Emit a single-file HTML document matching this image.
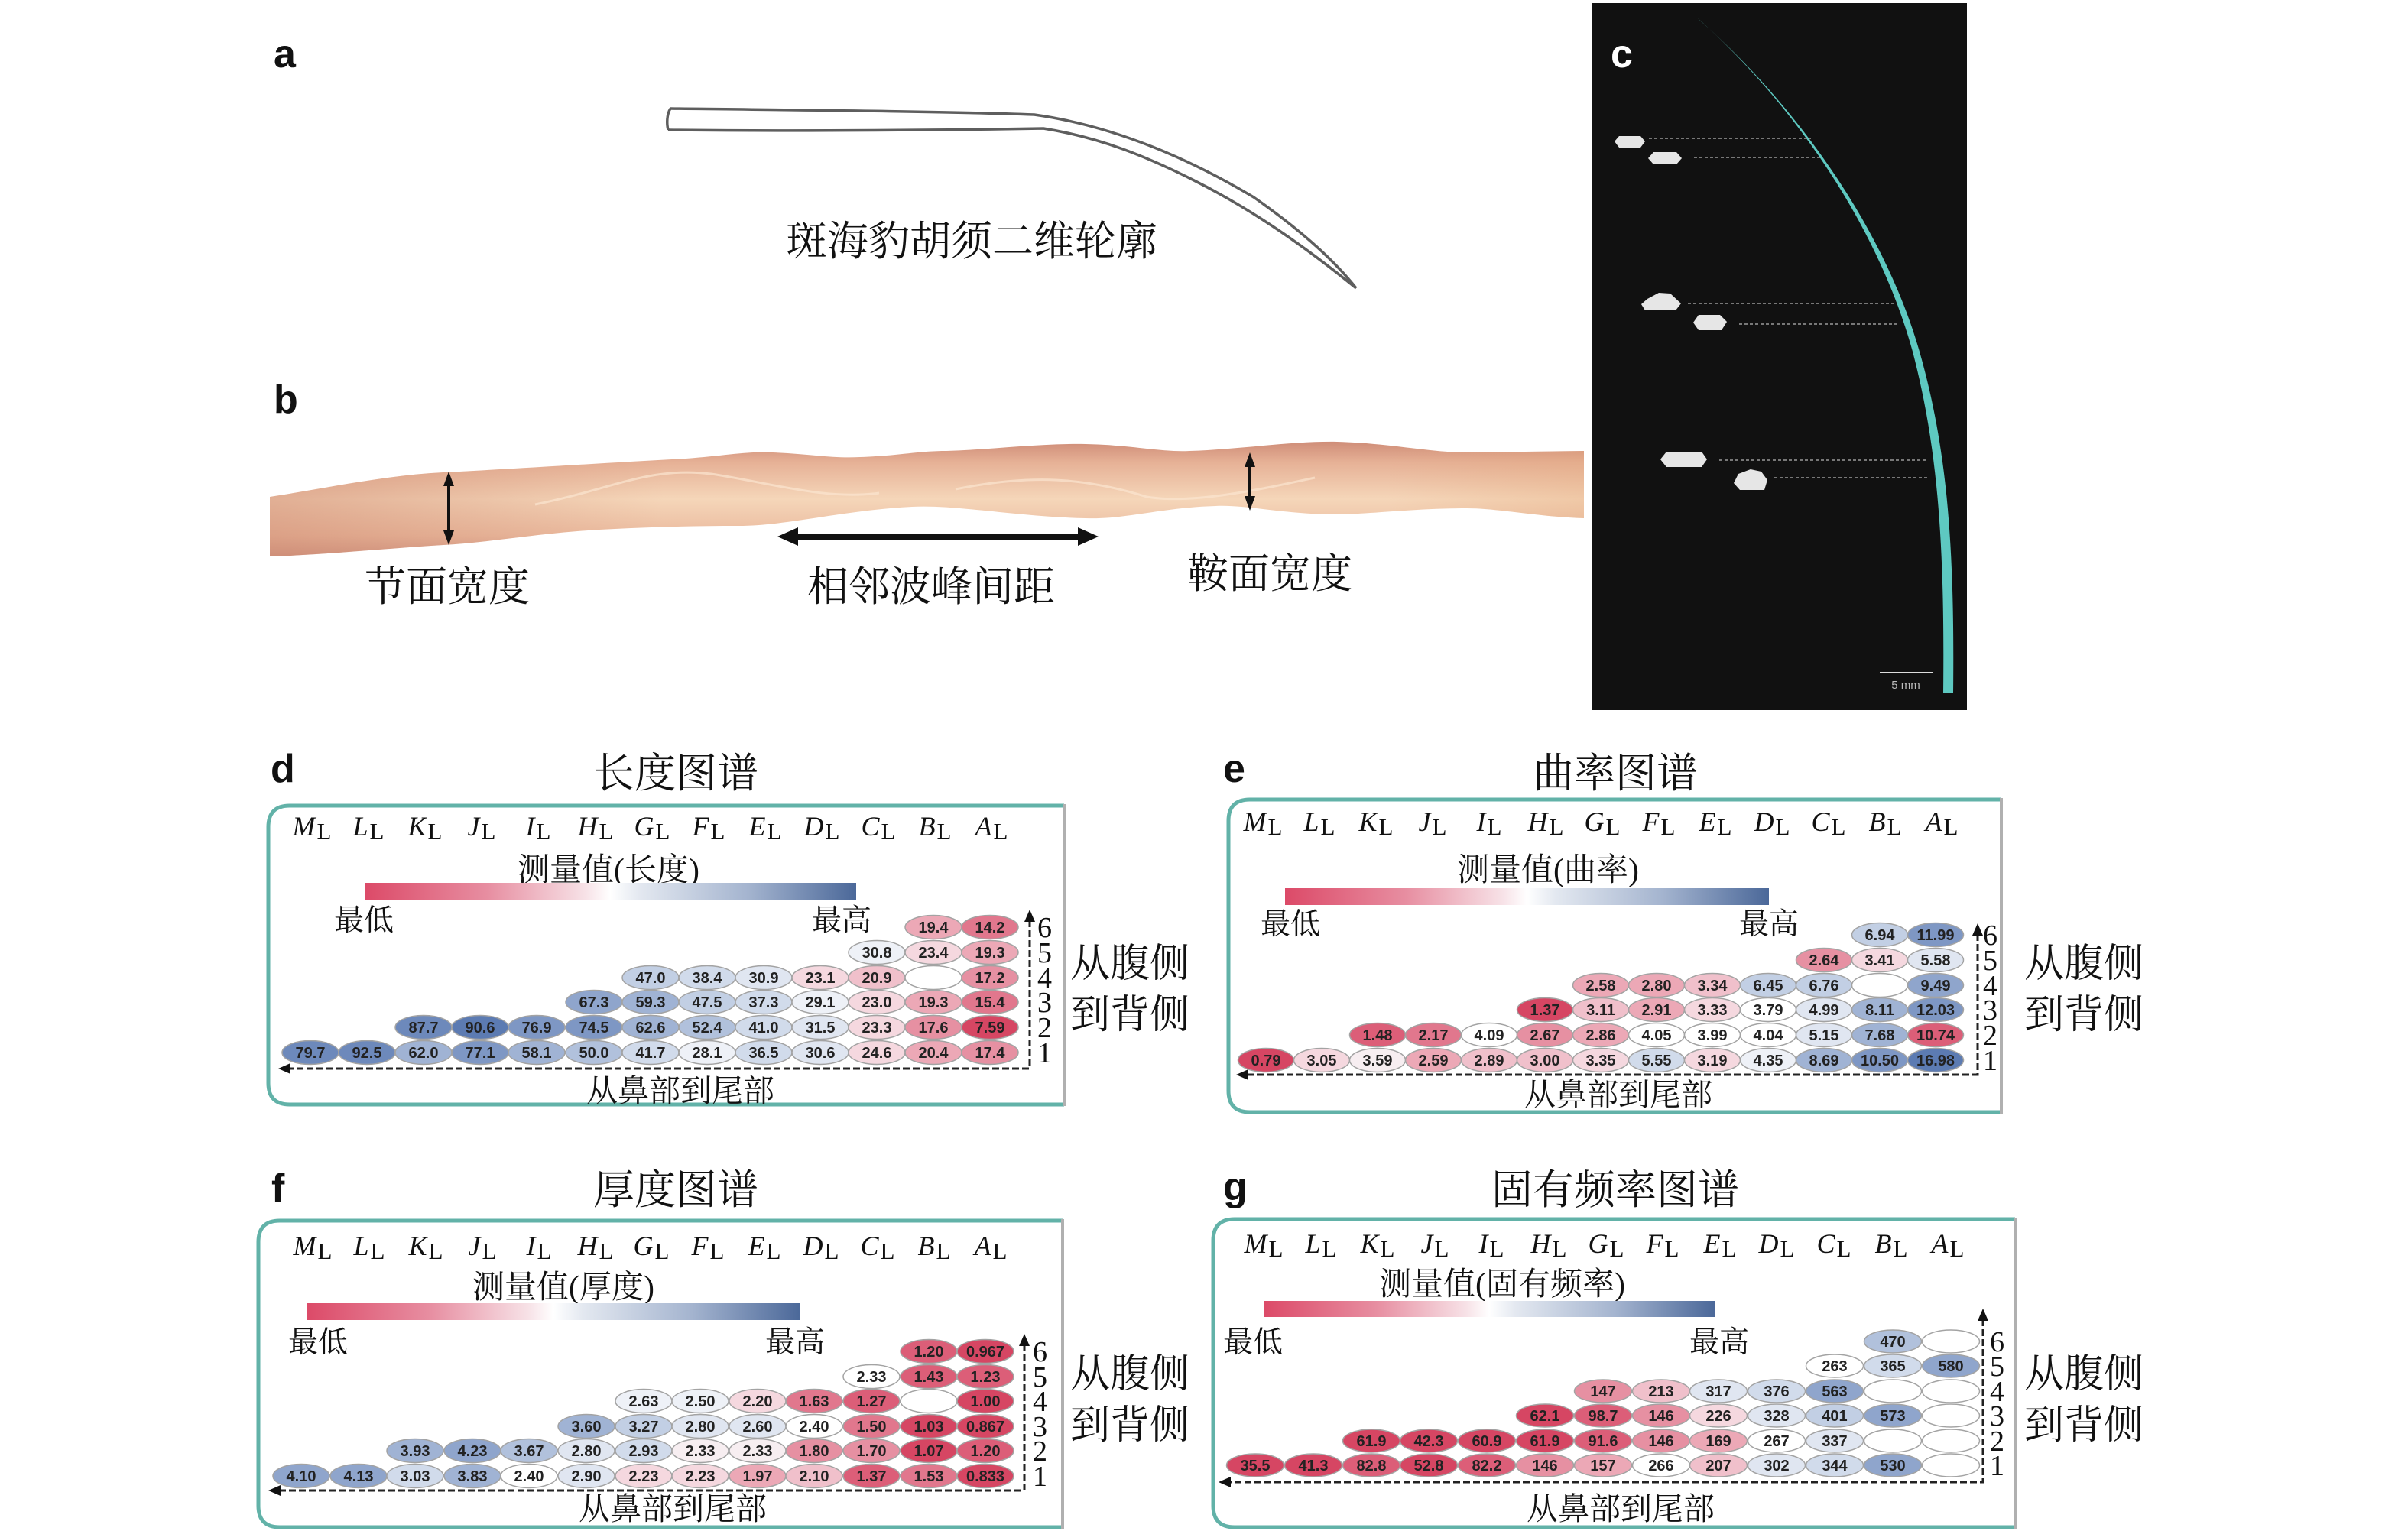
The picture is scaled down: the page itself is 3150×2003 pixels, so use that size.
<!DOCTYPE html>
<html><head><meta charset="utf-8"><style>
html,body{margin:0;padding:0;background:#fff;}
svg{display:block;}
.cj{font-family:"Liberation Serif","Noto Serif CJK SC",serif;fill:#111;}
.lb{font-family:"Liberation Sans",sans-serif;font-weight:bold;font-size:52px;fill:#111;}
.hd{font-family:"Liberation Serif",serif;font-size:36px;text-anchor:middle;fill:#111;}
.hd tspan[dy]{font-size:31px;}
.v{font-family:"Liberation Sans",sans-serif;font-weight:bold;font-size:20px;text-anchor:middle;fill:#222;}
.e{stroke:#a3a3a3;stroke-width:1.5;}
.rn{font-family:"Liberation Serif",serif;font-size:38px;fill:#111;}
.ax{stroke:#222;stroke-width:3;stroke-dasharray:9 4;fill:none;}
.bx{fill:none;stroke:#62b2a8;stroke-width:5;}
.br{stroke:#b0b0b0;stroke-width:4;}
.R0{fill:#f7eef1}.R1{fill:#f5d8df}.R2{fill:#f0c0cb}.R3{fill:#eca8b6}.R4{fill:#e690a2}.R5{fill:#e1778d}.R6{fill:#dc5e78}.R7{fill:#d64663}
.W{fill:#ffffff}
.B0{fill:#eef1f7}.B1{fill:#e0e6f1}.B2{fill:#d1dbeb}.B3{fill:#c2cfe4}.B4{fill:#b1c1dc}.B5{fill:#a0b3d4}.B6{fill:#8fa5cc}.B7{fill:#7e97c4}.B8{fill:#6d89bb}.B9{fill:#5c7bb2}
</style></head><body>
<svg width="3150" height="2003" viewBox="0 0 3150 2003" xmlns="http://www.w3.org/2000/svg">
<defs>
<linearGradient id="cb" x1="0" y1="0" x2="1" y2="0">
<stop offset="0" stop-color="#dc4a68"/><stop offset="0.25" stop-color="#e78ea1"/><stop offset="0.45" stop-color="#f7e2e7"/><stop offset="0.5" stop-color="#ffffff"/><stop offset="0.56" stop-color="#e3e8f0"/><stop offset="0.78" stop-color="#a4b4cf"/><stop offset="1" stop-color="#4b6899"/>
</linearGradient>
<linearGradient id="wv" x1="0" y1="0" x2="0" y2="1">
<stop offset="0" stop-color="#cf8d78"/><stop offset="0.18" stop-color="#e6b196"/><stop offset="0.5" stop-color="#f5d6b9"/><stop offset="0.82" stop-color="#ebbb9f"/><stop offset="1" stop-color="#d39a86"/>
</linearGradient>
<linearGradient id="wh" x1="0" y1="0" x2="1" y2="0">
<stop offset="0" stop-color="#c98068" stop-opacity="0.45"/><stop offset="0.3" stop-color="#c98068" stop-opacity="0"/><stop offset="0.85" stop-color="#e0a070" stop-opacity="0"/><stop offset="1" stop-color="#e0a070" stop-opacity="0.25"/>
</linearGradient>
</defs>

<!-- panel a -->
<text class="lb" x="358" y="88">a</text>
<g fill="none" stroke="#5e5e5e" stroke-width="3.5" stroke-linejoin="round">
<path d="M877,142 C1050,144 1250,146 1353,150 C1460,165 1560,210 1640,258 C1700,300 1745,340 1774,377"/>
<path d="M874,170 C1050,172 1250,170 1365,168 C1440,180 1500,205 1560,235 C1640,275 1710,325 1774,377"/>
<path d="M877,142 C872,150 872,162 874,170"/>
</g>
<text class="cj" x="1271" y="334" font-size="54" text-anchor="middle">斑海豹胡须二维轮廓</text>

<!-- panel b -->
<text class="lb" x="358" y="540">b</text>
<path d="M353,650 C420,640 500,622 580,618 C700,612 800,605 897,600 C950,596 980,590 1011,592 C1060,594 1090,600 1125,598 C1180,596 1200,590 1238,590 C1300,588 1360,580 1420,581 C1480,582 1520,592 1556,590 C1620,588 1690,577 1749,578 C1820,580 1870,592 1919,592 L2072,590 L2072,678 C2010,676 1960,665 1919,665 C1850,665 1800,672 1749,673 C1680,673 1630,660 1590,662 C1520,664 1470,680 1420,678 C1330,676 1250,660 1193,663 C1100,668 1030,688 966,688 C900,688 840,690 784,693 C700,698 640,710 580,713 C500,718 420,726 353,728 Z" fill="url(#wv)"/>
<path d="M353,650 C420,640 500,622 580,618 C700,612 800,605 897,600 C950,596 980,590 1011,592 C1060,594 1090,600 1125,598 C1180,596 1200,590 1238,590 C1300,588 1360,580 1420,581 C1480,582 1520,592 1556,590 C1620,588 1690,577 1749,578 C1820,580 1870,592 1919,592 L2072,590 L2072,678 C2010,676 1960,665 1919,665 C1850,665 1800,672 1749,673 C1680,673 1630,660 1590,662 C1520,664 1470,680 1420,678 C1330,676 1250,660 1193,663 C1100,668 1030,688 966,688 C900,688 840,690 784,693 C700,698 640,710 580,713 C500,718 420,726 353,728 Z" fill="url(#wh)"/>
<g fill="none" stroke="#fbe6d0" stroke-width="3" opacity="0.7">
<path d="M700,660 C800,640 850,610 930,620 C1000,630 1080,655 1150,645"/>
<path d="M1250,640 C1350,620 1420,625 1500,650 C1560,660 1650,640 1720,625"/>
</g>
<g stroke="#111" fill="#111">
<line x1="587" y1="630" x2="587" y2="700" stroke-width="4"/>
<polygon points="580,636 587,617 594,636" stroke="none"/>
<polygon points="580,694 587,713 594,694" stroke="none"/>
<line x1="1635" y1="605" x2="1635" y2="655" stroke-width="4"/>
<polygon points="1628,611 1635,592 1642,611" stroke="none"/>
<polygon points="1628,649 1635,668 1642,649" stroke="none"/>
<line x1="1040" y1="702" x2="1414" y2="702" stroke-width="8"/>
<polygon points="1044,690 1017,702 1044,714" stroke="none"/>
<polygon points="1410,690 1437,702 1410,714" stroke="none"/>
</g>
<text class="cj" x="585" y="786" font-size="54" text-anchor="middle">节面宽度</text>
<text class="cj" x="1218" y="786" font-size="54" text-anchor="middle">相邻波峰间距</text>
<text class="cj" x="1661" y="769" font-size="54" text-anchor="middle">鞍面宽度</text>

<!-- panel c -->
<rect x="2083" y="4" width="490" height="925" fill="#111"/>
<text x="2107" y="88" font-family="Liberation Sans, sans-serif" font-weight="bold" font-size="52" fill="#fff">c</text>
<path d="M2221,24 C2350,139 2458,300 2502,460 C2536,590 2544,720 2542,907 L2555,907 C2557,720 2548,590 2511,460 C2465,300 2353,141 2223,26 Z" fill="#5ec9c1"/>
<g fill="#e6e6e6">
<polygon points="2118,178 2146,178 2152,185 2146,193 2118,193 2112,185"/>
<polygon points="2163,199 2193,199 2200,207 2193,215 2163,215 2156,207"/>
<polygon points="2155,391 2170,383 2185,384 2199,397 2192,406 2152,406 2147,398"/>
<polygon points="2222,412 2250,412 2259,421 2252,432 2222,432 2215,422"/>
<polygon points="2180,591 2226,591 2233,601 2226,611 2180,611 2172,601"/>
<polygon points="2274,620 2290,614 2304,617 2312,628 2308,641 2276,641 2268,632"/>
</g>
<g stroke="#9a9a9a" stroke-width="1.5" stroke-dasharray="4 3">
<line x1="2157" y1="181" x2="2369" y2="181"/>
<line x1="2216" y1="206" x2="2383" y2="206"/>
<line x1="2208" y1="397" x2="2479" y2="397"/>
<line x1="2275" y1="424" x2="2486" y2="424"/>
<line x1="2249" y1="602" x2="2521" y2="602"/>
<line x1="2321" y1="625" x2="2524" y2="625"/>
</g>
<line x1="2459" y1="880" x2="2528" y2="880" stroke="#ddd" stroke-width="2"/>
<text x="2493" y="901" font-family="Liberation Sans, sans-serif" font-size="15" fill="#bbb" text-anchor="middle">5 mm</text>

<!-- ================= panel d ================= -->
<text class="lb" x="354" y="1023">d</text>
<text class="cj" x="884" y="1030" font-size="54" text-anchor="middle">长度图谱</text>
<path class="bx" d="M1392,1054 L379,1054 Q351,1054 351,1082 L351,1417 Q351,1445 379,1445 L1392,1445"/>
<line class="br" x1="1392" y1="1052" x2="1392" y2="1447"/>
<g>
<text class="hd" x="408" y="1093"><tspan font-style="italic">M</tspan><tspan dx="2" dy="5">L</tspan></text>
<text class="hd" x="482" y="1093"><tspan font-style="italic">L</tspan><tspan dx="2" dy="5">L</tspan></text>
<text class="hd" x="556" y="1093"><tspan font-style="italic">K</tspan><tspan dx="2" dy="5">L</tspan></text>
<text class="hd" x="630" y="1093"><tspan font-style="italic">J</tspan><tspan dx="2" dy="5">L</tspan></text>
<text class="hd" x="704" y="1093"><tspan font-style="italic">I</tspan><tspan dx="2" dy="5">L</tspan></text>
<text class="hd" x="779" y="1093"><tspan font-style="italic">H</tspan><tspan dx="2" dy="5">L</tspan></text>
<text class="hd" x="853" y="1093"><tspan font-style="italic">G</tspan><tspan dx="2" dy="5">L</tspan></text>
<text class="hd" x="927" y="1093"><tspan font-style="italic">F</tspan><tspan dx="2" dy="5">L</tspan></text>
<text class="hd" x="1001" y="1093"><tspan font-style="italic">E</tspan><tspan dx="2" dy="5">L</tspan></text>
<text class="hd" x="1075" y="1093"><tspan font-style="italic">D</tspan><tspan dx="2" dy="5">L</tspan></text>
<text class="hd" x="1149" y="1093"><tspan font-style="italic">C</tspan><tspan dx="2" dy="5">L</tspan></text>
<text class="hd" x="1223" y="1093"><tspan font-style="italic">B</tspan><tspan dx="2" dy="5">L</tspan></text>
<text class="hd" x="1297" y="1093"><tspan font-style="italic">A</tspan><tspan dx="2" dy="5">L</tspan></text>
</g>
<text class="cj" x="796" y="1152" font-size="42" text-anchor="middle">测量值(长度)</text>
<rect x="477" y="1155" width="643" height="22" fill="url(#cb)"/>
<text class="cj" x="476" y="1217" font-size="39" text-anchor="middle">最低</text>
<text class="cj" x="1101" y="1217" font-size="39" text-anchor="middle">最高</text>
<g>
<ellipse class="e B8" cx="406" cy="1377" rx="37" ry="15.5"/><text class="v" x="406" y="1384">79.7</text>
<ellipse class="e B8" cx="480" cy="1377" rx="37" ry="15.5"/><text class="v" x="480" y="1384">92.5</text>
<ellipse class="e B5" cx="554" cy="1377" rx="37" ry="15.5"/><text class="v" x="554" y="1384">62.0</text>
<ellipse class="e B7" cx="628" cy="1377" rx="37" ry="15.5"/><text class="v" x="628" y="1384">77.1</text>
<ellipse class="e B5" cx="702" cy="1377" rx="37" ry="15.5"/><text class="v" x="702" y="1384">58.1</text>
<ellipse class="e B4" cx="777" cy="1377" rx="37" ry="15.5"/><text class="v" x="777" y="1384">50.0</text>
<ellipse class="e B2" cx="851" cy="1377" rx="37" ry="15.5"/><text class="v" x="851" y="1384">41.7</text>
<ellipse class="e B0" cx="925" cy="1377" rx="37" ry="15.5"/><text class="v" x="925" y="1384">28.1</text>
<ellipse class="e B2" cx="999" cy="1377" rx="37" ry="15.5"/><text class="v" x="999" y="1384">36.5</text>
<ellipse class="e B1" cx="1073" cy="1377" rx="37" ry="15.5"/><text class="v" x="1073" y="1384">30.6</text>
<ellipse class="e R1" cx="1147" cy="1377" rx="37" ry="15.5"/><text class="v" x="1147" y="1384">24.6</text>
<ellipse class="e R3" cx="1221" cy="1377" rx="37" ry="15.5"/><text class="v" x="1221" y="1384">20.4</text>
<ellipse class="e R4" cx="1295" cy="1377" rx="37" ry="15.5"/><text class="v" x="1295" y="1384">17.4</text>

<ellipse class="e B8" cx="554" cy="1344" rx="37" ry="15.5"/><text class="v" x="554" y="1351">87.7</text>
<ellipse class="e B9" cx="628" cy="1344" rx="37" ry="15.5"/><text class="v" x="628" y="1351">90.6</text>
<ellipse class="e B7" cx="702" cy="1344" rx="37" ry="15.5"/><text class="v" x="702" y="1351">76.9</text>
<ellipse class="e B7" cx="777" cy="1344" rx="37" ry="15.5"/><text class="v" x="777" y="1351">74.5</text>
<ellipse class="e B5" cx="851" cy="1344" rx="37" ry="15.5"/><text class="v" x="851" y="1351">62.6</text>
<ellipse class="e B4" cx="925" cy="1344" rx="37" ry="15.5"/><text class="v" x="925" y="1351">52.4</text>
<ellipse class="e B2" cx="999" cy="1344" rx="37" ry="15.5"/><text class="v" x="999" y="1351">41.0</text>
<ellipse class="e B1" cx="1073" cy="1344" rx="37" ry="15.5"/><text class="v" x="1073" y="1351">31.5</text>
<ellipse class="e R1" cx="1147" cy="1344" rx="37" ry="15.5"/><text class="v" x="1147" y="1351">23.3</text>
<ellipse class="e R4" cx="1221" cy="1344" rx="37" ry="15.5"/><text class="v" x="1221" y="1351">17.6</text>
<ellipse class="e R7" cx="1295" cy="1344" rx="37" ry="15.5"/><text class="v" x="1295" y="1351">7.59</text>

<ellipse class="e B6" cx="777" cy="1311" rx="37" ry="15.5"/><text class="v" x="777" y="1318">67.3</text>
<ellipse class="e B5" cx="851" cy="1311" rx="37" ry="15.5"/><text class="v" x="851" y="1318">59.3</text>
<ellipse class="e B3" cx="925" cy="1311" rx="37" ry="15.5"/><text class="v" x="925" y="1318">47.5</text>
<ellipse class="e B2" cx="999" cy="1311" rx="37" ry="15.5"/><text class="v" x="999" y="1318">37.3</text>
<ellipse class="e B0" cx="1073" cy="1311" rx="37" ry="15.5"/><text class="v" x="1073" y="1318">29.1</text>
<ellipse class="e R1" cx="1147" cy="1311" rx="37" ry="15.5"/><text class="v" x="1147" y="1318">23.0</text>
<ellipse class="e R3" cx="1221" cy="1311" rx="37" ry="15.5"/><text class="v" x="1221" y="1318">19.3</text>
<ellipse class="e R5" cx="1295" cy="1311" rx="37" ry="15.5"/><text class="v" x="1295" y="1318">15.4</text>

<ellipse class="e B3" cx="851" cy="1279" rx="37" ry="15.5"/><text class="v" x="851" y="1286">47.0</text>
<ellipse class="e B2" cx="925" cy="1279" rx="37" ry="15.5"/><text class="v" x="925" y="1286">38.4</text>
<ellipse class="e B1" cx="999" cy="1279" rx="37" ry="15.5"/><text class="v" x="999" y="1286">30.9</text>
<ellipse class="e R1" cx="1073" cy="1279" rx="37" ry="15.5"/><text class="v" x="1073" y="1286">23.1</text>
<ellipse class="e R2" cx="1147" cy="1279" rx="37" ry="15.5"/><text class="v" x="1147" y="1286">20.9</text>
<ellipse class="e W" cx="1221" cy="1279" rx="37" ry="15.5"/>
<ellipse class="e R4" cx="1295" cy="1279" rx="37" ry="15.5"/><text class="v" x="1295" y="1286">17.2</text>

<ellipse class="e B0" cx="1147" cy="1246" rx="37" ry="15.5"/><text class="v" x="1147" y="1253">30.8</text>
<ellipse class="e R1" cx="1221" cy="1246" rx="37" ry="15.5"/><text class="v" x="1221" y="1253">23.4</text>
<ellipse class="e R3" cx="1295" cy="1246" rx="37" ry="15.5"/><text class="v" x="1295" y="1253">19.3</text>

<ellipse class="e R3" cx="1221" cy="1213" rx="37" ry="15.5"/><text class="v" x="1221" y="1220">19.4</text>
<ellipse class="e R5" cx="1295" cy="1213" rx="37" ry="15.5"/><text class="v" x="1295" y="1220">14.2</text>
</g>
<polyline class="ax" points="1347,1204 1347,1398 378,1398"/>
<polygon points="1340,1206 1347,1190 1354,1206" fill="#111"/>
<polygon points="380,1391 364,1398 380,1405" fill="#111"/>
<g class="rn">
<text x="1357" y="1390">1</text><text x="1357" y="1357">2</text><text x="1357" y="1324">3</text><text x="1357" y="1292">4</text><text x="1357" y="1259">5</text><text x="1357" y="1226">6</text>
</g>
<text class="cj" x="890" y="1441" font-size="41" text-anchor="middle">从鼻部到尾部</text>
<text class="cj" x="1400" y="1278" font-size="52">从腹侧</text>
<text class="cj" x="1400" y="1345" font-size="52">到背侧</text>

<!-- ================= panel e ================= -->
<text class="lb" x="1600" y="1023">e</text>
<text class="cj" x="2113" y="1030" font-size="54" text-anchor="middle">曲率图谱</text>
<path class="bx" d="M2618,1046 L1635,1046 Q1607,1046 1607,1074 L1607,1427 Q1607,1455 1635,1455 L2618,1455"/>
<line class="br" x1="2618" y1="1044" x2="2618" y2="1457"/>
<g>
<text class="hd" x="1652" y="1087"><tspan font-style="italic">M</tspan><tspan dx="2" dy="5">L</tspan></text>
<text class="hd" x="1726" y="1087"><tspan font-style="italic">L</tspan><tspan dx="2" dy="5">L</tspan></text>
<text class="hd" x="1800" y="1087"><tspan font-style="italic">K</tspan><tspan dx="2" dy="5">L</tspan></text>
<text class="hd" x="1874" y="1087"><tspan font-style="italic">J</tspan><tspan dx="2" dy="5">L</tspan></text>
<text class="hd" x="1948" y="1087"><tspan font-style="italic">I</tspan><tspan dx="2" dy="5">L</tspan></text>
<text class="hd" x="2022" y="1087"><tspan font-style="italic">H</tspan><tspan dx="2" dy="5">L</tspan></text>
<text class="hd" x="2096" y="1087"><tspan font-style="italic">G</tspan><tspan dx="2" dy="5">L</tspan></text>
<text class="hd" x="2170" y="1087"><tspan font-style="italic">F</tspan><tspan dx="2" dy="5">L</tspan></text>
<text class="hd" x="2244" y="1087"><tspan font-style="italic">E</tspan><tspan dx="2" dy="5">L</tspan></text>
<text class="hd" x="2318" y="1087"><tspan font-style="italic">D</tspan><tspan dx="2" dy="5">L</tspan></text>
<text class="hd" x="2392" y="1087"><tspan font-style="italic">C</tspan><tspan dx="2" dy="5">L</tspan></text>
<text class="hd" x="2466" y="1087"><tspan font-style="italic">B</tspan><tspan dx="2" dy="5">L</tspan></text>
<text class="hd" x="2540" y="1087"><tspan font-style="italic">A</tspan><tspan dx="2" dy="5">L</tspan></text>
</g>
<text class="cj" x="2025" y="1152" font-size="42" text-anchor="middle">测量值(曲率)</text>
<rect x="1681" y="1162" width="633" height="22" fill="url(#cb)"/>
<text class="cj" x="1688" y="1222" font-size="39" text-anchor="middle">最低</text>
<text class="cj" x="2314" y="1222" font-size="39" text-anchor="middle">最高</text>
<g>
<ellipse class="e R7" cx="1656" cy="1387" rx="36.5" ry="15.5"/><text class="v" x="1656" y="1394">0.79</text>
<ellipse class="e R1" cx="1729" cy="1387" rx="36.5" ry="15.5"/><text class="v" x="1729" y="1394">3.05</text>
<ellipse class="e R0" cx="1802" cy="1387" rx="36.5" ry="15.5"/><text class="v" x="1802" y="1394">3.59</text>
<ellipse class="e R3" cx="1875" cy="1387" rx="36.5" ry="15.5"/><text class="v" x="1875" y="1394">2.59</text>
<ellipse class="e R2" cx="1948" cy="1387" rx="36.5" ry="15.5"/><text class="v" x="1948" y="1394">2.89</text>
<ellipse class="e R2" cx="2021" cy="1387" rx="36.5" ry="15.5"/><text class="v" x="2021" y="1394">3.00</text>
<ellipse class="e R1" cx="2094" cy="1387" rx="36.5" ry="15.5"/><text class="v" x="2094" y="1394">3.35</text>
<ellipse class="e B2" cx="2167" cy="1387" rx="36.5" ry="15.5"/><text class="v" x="2167" y="1394">5.55</text>
<ellipse class="e R1" cx="2240" cy="1387" rx="36.5" ry="15.5"/><text class="v" x="2240" y="1394">3.19</text>
<ellipse class="e B0" cx="2313" cy="1387" rx="36.5" ry="15.5"/><text class="v" x="2313" y="1394">4.35</text>
<ellipse class="e B5" cx="2386" cy="1387" rx="36.5" ry="15.5"/><text class="v" x="2386" y="1394">8.69</text>
<ellipse class="e B7" cx="2459" cy="1387" rx="36.5" ry="15.5"/><text class="v" x="2459" y="1394">10.50</text>
<ellipse class="e B9" cx="2532" cy="1387" rx="36.5" ry="15.5"/><text class="v" x="2532" y="1394">16.98</text>

<ellipse class="e R6" cx="1802" cy="1354" rx="36.5" ry="15.5"/><text class="v" x="1802" y="1361">1.48</text>
<ellipse class="e R5" cx="1875" cy="1354" rx="36.5" ry="15.5"/><text class="v" x="1875" y="1361">2.17</text>
<ellipse class="e W" cx="1948" cy="1354" rx="36.5" ry="15.5"/><text class="v" x="1948" y="1361">4.09</text>
<ellipse class="e R4" cx="2021" cy="1354" rx="36.5" ry="15.5"/><text class="v" x="2021" y="1361">2.67</text>
<ellipse class="e R3" cx="2094" cy="1354" rx="36.5" ry="15.5"/><text class="v" x="2094" y="1361">2.86</text>
<ellipse class="e W" cx="2167" cy="1354" rx="36.5" ry="15.5"/><text class="v" x="2167" y="1361">4.05</text>
<ellipse class="e W" cx="2240" cy="1354" rx="36.5" ry="15.5"/><text class="v" x="2240" y="1361">3.99</text>
<ellipse class="e W" cx="2313" cy="1354" rx="36.5" ry="15.5"/><text class="v" x="2313" y="1361">4.04</text>
<ellipse class="e B1" cx="2386" cy="1354" rx="36.5" ry="15.5"/><text class="v" x="2386" y="1361">5.15</text>
<ellipse class="e B5" cx="2459" cy="1354" rx="36.5" ry="15.5"/><text class="v" x="2459" y="1361">7.68</text>
<ellipse class="e R6" cx="2532" cy="1354" rx="36.5" ry="15.5"/><text class="v" x="2532" y="1361">10.74</text>

<ellipse class="e R7" cx="2021" cy="1321" rx="36.5" ry="15.5"/><text class="v" x="2021" y="1328">1.37</text>
<ellipse class="e R2" cx="2094" cy="1321" rx="36.5" ry="15.5"/><text class="v" x="2094" y="1328">3.11</text>
<ellipse class="e R3" cx="2167" cy="1321" rx="36.5" ry="15.5"/><text class="v" x="2167" y="1328">2.91</text>
<ellipse class="e R1" cx="2240" cy="1321" rx="36.5" ry="15.5"/><text class="v" x="2240" y="1328">3.33</text>
<ellipse class="e W" cx="2313" cy="1321" rx="36.5" ry="15.5"/><text class="v" x="2313" y="1328">3.79</text>
<ellipse class="e B1" cx="2386" cy="1321" rx="36.5" ry="15.5"/><text class="v" x="2386" y="1328">4.99</text>
<ellipse class="e B5" cx="2459" cy="1321" rx="36.5" ry="15.5"/><text class="v" x="2459" y="1328">8.11</text>
<ellipse class="e B7" cx="2532" cy="1321" rx="36.5" ry="15.5"/><text class="v" x="2532" y="1328">12.03</text>

<ellipse class="e R3" cx="2094" cy="1289" rx="36.5" ry="15.5"/><text class="v" x="2094" y="1296">2.58</text>
<ellipse class="e R3" cx="2167" cy="1289" rx="36.5" ry="15.5"/><text class="v" x="2167" y="1296">2.80</text>
<ellipse class="e R2" cx="2240" cy="1289" rx="36.5" ry="15.5"/><text class="v" x="2240" y="1296">3.34</text>
<ellipse class="e B3" cx="2313" cy="1289" rx="36.5" ry="15.5"/><text class="v" x="2313" y="1296">6.45</text>
<ellipse class="e B3" cx="2386" cy="1289" rx="36.5" ry="15.5"/><text class="v" x="2386" y="1296">6.76</text>
<ellipse class="e W" cx="2459" cy="1289" rx="36.5" ry="15.5"/>
<ellipse class="e B6" cx="2532" cy="1289" rx="36.5" ry="15.5"/><text class="v" x="2532" y="1296">9.49</text>

<ellipse class="e R4" cx="2386" cy="1256" rx="36.5" ry="15.5"/><text class="v" x="2386" y="1263">2.64</text>
<ellipse class="e R1" cx="2459" cy="1256" rx="36.5" ry="15.5"/><text class="v" x="2459" y="1263">3.41</text>
<ellipse class="e B1" cx="2532" cy="1256" rx="36.5" ry="15.5"/><text class="v" x="2532" y="1263">5.58</text>

<ellipse class="e B3" cx="2459" cy="1223" rx="36.5" ry="15.5"/><text class="v" x="2459" y="1230">6.94</text>
<ellipse class="e B7" cx="2532" cy="1223" rx="36.5" ry="15.5"/><text class="v" x="2532" y="1230">11.99</text>
</g>
<polyline class="ax" points="2587,1222 2587,1406 1631,1406"/>
<polygon points="2580,1224 2587,1208 2594,1224" fill="#111"/>
<polygon points="1633,1399 1617,1406 1633,1413" fill="#111"/>
<g class="rn">
<text x="2594" y="1400">1</text><text x="2594" y="1367">2</text><text x="2594" y="1334">3</text><text x="2594" y="1302">4</text><text x="2594" y="1269">5</text><text x="2594" y="1236">6</text>
</g>
<text class="cj" x="2117" y="1446" font-size="41" text-anchor="middle">从鼻部到尾部</text>
<text class="cj" x="2648" y="1278" font-size="52">从腹侧</text>
<text class="cj" x="2648" y="1345" font-size="52">到背侧</text>

<!-- ================= panel f ================= -->
<text class="lb" x="355" y="1572">f</text>
<text class="cj" x="884" y="1575" font-size="54" text-anchor="middle">厚度图谱</text>
<path class="bx" d="M1390,1597 L366,1597 Q338,1597 338,1625 L338,1970 Q338,1998 366,1998 L1390,1998"/>
<line class="br" x1="1390" y1="1595" x2="1390" y2="2000"/>
<g>
<text class="hd" x="409" y="1642"><tspan font-style="italic">M</tspan><tspan dx="2" dy="5">L</tspan></text>
<text class="hd" x="483" y="1642"><tspan font-style="italic">L</tspan><tspan dx="2" dy="5">L</tspan></text>
<text class="hd" x="557" y="1642"><tspan font-style="italic">K</tspan><tspan dx="2" dy="5">L</tspan></text>
<text class="hd" x="631" y="1642"><tspan font-style="italic">J</tspan><tspan dx="2" dy="5">L</tspan></text>
<text class="hd" x="705" y="1642"><tspan font-style="italic">I</tspan><tspan dx="2" dy="5">L</tspan></text>
<text class="hd" x="779" y="1642"><tspan font-style="italic">H</tspan><tspan dx="2" dy="5">L</tspan></text>
<text class="hd" x="852" y="1642"><tspan font-style="italic">G</tspan><tspan dx="2" dy="5">L</tspan></text>
<text class="hd" x="926" y="1642"><tspan font-style="italic">F</tspan><tspan dx="2" dy="5">L</tspan></text>
<text class="hd" x="1000" y="1642"><tspan font-style="italic">E</tspan><tspan dx="2" dy="5">L</tspan></text>
<text class="hd" x="1074" y="1642"><tspan font-style="italic">D</tspan><tspan dx="2" dy="5">L</tspan></text>
<text class="hd" x="1148" y="1642"><tspan font-style="italic">C</tspan><tspan dx="2" dy="5">L</tspan></text>
<text class="hd" x="1222" y="1642"><tspan font-style="italic">B</tspan><tspan dx="2" dy="5">L</tspan></text>
<text class="hd" x="1296" y="1642"><tspan font-style="italic">A</tspan><tspan dx="2" dy="5">L</tspan></text>
</g>
<text class="cj" x="737" y="1698" font-size="42" text-anchor="middle">测量值(厚度)</text>
<rect x="401" y="1705" width="646" height="22" fill="url(#cb)"/>
<text class="cj" x="416" y="1769" font-size="39" text-anchor="middle">最低</text>
<text class="cj" x="1040" y="1769" font-size="39" text-anchor="middle">最高</text>
<g>
<ellipse class="e B6" cx="394" cy="1931" rx="37" ry="15.5"/><text class="v" x="394" y="1938">4.10</text>
<ellipse class="e B6" cx="469" cy="1931" rx="37" ry="15.5"/><text class="v" x="469" y="1938">4.13</text>
<ellipse class="e B2" cx="543" cy="1931" rx="37" ry="15.5"/><text class="v" x="543" y="1938">3.03</text>
<ellipse class="e B5" cx="618" cy="1931" rx="37" ry="15.5"/><text class="v" x="618" y="1938">3.83</text>
<ellipse class="e W" cx="692" cy="1931" rx="37" ry="15.5"/><text class="v" x="692" y="1938">2.40</text>
<ellipse class="e B1" cx="767" cy="1931" rx="37" ry="15.5"/><text class="v" x="767" y="1938">2.90</text>
<ellipse class="e R1" cx="842" cy="1931" rx="37" ry="15.5"/><text class="v" x="842" y="1938">2.23</text>
<ellipse class="e R1" cx="916" cy="1931" rx="37" ry="15.5"/><text class="v" x="916" y="1938">2.23</text>
<ellipse class="e R3" cx="991" cy="1931" rx="37" ry="15.5"/><text class="v" x="991" y="1938">1.97</text>
<ellipse class="e R2" cx="1065" cy="1931" rx="37" ry="15.5"/><text class="v" x="1065" y="1938">2.10</text>
<ellipse class="e R6" cx="1140" cy="1931" rx="37" ry="15.5"/><text class="v" x="1140" y="1938">1.37</text>
<ellipse class="e R5" cx="1215" cy="1931" rx="37" ry="15.5"/><text class="v" x="1215" y="1938">1.53</text>
<ellipse class="e R7" cx="1289" cy="1931" rx="37" ry="15.5"/><text class="v" x="1289" y="1938">0.833</text>

<ellipse class="e B5" cx="543" cy="1898" rx="37" ry="15.5"/><text class="v" x="543" y="1905">3.93</text>
<ellipse class="e B6" cx="618" cy="1898" rx="37" ry="15.5"/><text class="v" x="618" y="1905">4.23</text>
<ellipse class="e B4" cx="692" cy="1898" rx="37" ry="15.5"/><text class="v" x="692" y="1905">3.67</text>
<ellipse class="e B1" cx="767" cy="1898" rx="37" ry="15.5"/><text class="v" x="767" y="1905">2.80</text>
<ellipse class="e B2" cx="842" cy="1898" rx="37" ry="15.5"/><text class="v" x="842" y="1905">2.93</text>
<ellipse class="e R0" cx="916" cy="1898" rx="37" ry="15.5"/><text class="v" x="916" y="1905">2.33</text>
<ellipse class="e R0" cx="991" cy="1898" rx="37" ry="15.5"/><text class="v" x="991" y="1905">2.33</text>
<ellipse class="e R4" cx="1065" cy="1898" rx="37" ry="15.5"/><text class="v" x="1065" y="1905">1.80</text>
<ellipse class="e R4" cx="1140" cy="1898" rx="37" ry="15.5"/><text class="v" x="1140" y="1905">1.70</text>
<ellipse class="e R7" cx="1215" cy="1898" rx="37" ry="15.5"/><text class="v" x="1215" y="1905">1.07</text>
<ellipse class="e R6" cx="1289" cy="1898" rx="37" ry="15.5"/><text class="v" x="1289" y="1905">1.20</text>

<ellipse class="e B5" cx="767" cy="1866" rx="37" ry="15.5"/><text class="v" x="767" y="1873">3.60</text>
<ellipse class="e B3" cx="842" cy="1866" rx="37" ry="15.5"/><text class="v" x="842" y="1873">3.27</text>
<ellipse class="e B1" cx="916" cy="1866" rx="37" ry="15.5"/><text class="v" x="916" y="1873">2.80</text>
<ellipse class="e B1" cx="991" cy="1866" rx="37" ry="15.5"/><text class="v" x="991" y="1873">2.60</text>
<ellipse class="e W" cx="1065" cy="1866" rx="37" ry="15.5"/><text class="v" x="1065" y="1873">2.40</text>
<ellipse class="e R5" cx="1140" cy="1866" rx="37" ry="15.5"/><text class="v" x="1140" y="1873">1.50</text>
<ellipse class="e R7" cx="1215" cy="1866" rx="37" ry="15.5"/><text class="v" x="1215" y="1873">1.03</text>
<ellipse class="e R7" cx="1289" cy="1866" rx="37" ry="15.5"/><text class="v" x="1289" y="1873">0.867</text>

<ellipse class="e B0" cx="842" cy="1833" rx="37" ry="15.5"/><text class="v" x="842" y="1840">2.63</text>
<ellipse class="e B0" cx="916" cy="1833" rx="37" ry="15.5"/><text class="v" x="916" y="1840">2.50</text>
<ellipse class="e R1" cx="991" cy="1833" rx="37" ry="15.5"/><text class="v" x="991" y="1840">2.20</text>
<ellipse class="e R5" cx="1065" cy="1833" rx="37" ry="15.5"/><text class="v" x="1065" y="1840">1.63</text>
<ellipse class="e R6" cx="1140" cy="1833" rx="37" ry="15.5"/><text class="v" x="1140" y="1840">1.27</text>
<ellipse class="e W" cx="1215" cy="1833" rx="37" ry="15.5"/>
<ellipse class="e R7" cx="1289" cy="1833" rx="37" ry="15.5"/><text class="v" x="1289" y="1840">1.00</text>

<ellipse class="e W" cx="1140" cy="1801" rx="37" ry="15.5"/><text class="v" x="1140" y="1808">2.33</text>
<ellipse class="e R6" cx="1215" cy="1801" rx="37" ry="15.5"/><text class="v" x="1215" y="1808">1.43</text>
<ellipse class="e R6" cx="1289" cy="1801" rx="37" ry="15.5"/><text class="v" x="1289" y="1808">1.23</text>

<ellipse class="e R6" cx="1215" cy="1768" rx="37" ry="15.5"/><text class="v" x="1215" y="1775">1.20</text>
<ellipse class="e R7" cx="1289" cy="1768" rx="37" ry="15.5"/><text class="v" x="1289" y="1775">0.967</text>
</g>
<polyline class="ax" points="1340,1759 1340,1950 365,1950"/>
<polygon points="1333,1761 1340,1745 1347,1761" fill="#111"/>
<polygon points="367,1943 351,1950 367,1957" fill="#111"/>
<g class="rn">
<text x="1351" y="1944">1</text><text x="1351" y="1911">2</text><text x="1351" y="1879">3</text><text x="1351" y="1846">4</text><text x="1351" y="1814">5</text><text x="1351" y="1781">6</text>
</g>
<text class="cj" x="880" y="1988" font-size="41" text-anchor="middle">从鼻部到尾部</text>
<text class="cj" x="1400" y="1815" font-size="52">从腹侧</text>
<text class="cj" x="1400" y="1882" font-size="52">到背侧</text>

<!-- ================= panel g ================= -->
<text class="lb" x="1600" y="1570">g</text>
<text class="cj" x="2113" y="1575" font-size="54" text-anchor="middle">固有频率图谱</text>
<path class="bx" d="M2636,1595 L1615,1595 Q1587,1595 1587,1623 L1587,1970 Q1587,1998 1615,1998 L2636,1998"/>
<line class="br" x1="2636" y1="1593" x2="2636" y2="2000"/>
<g>
<text class="hd" x="1653" y="1639"><tspan font-style="italic">M</tspan><tspan dx="2" dy="5">L</tspan></text>
<text class="hd" x="1728" y="1639"><tspan font-style="italic">L</tspan><tspan dx="2" dy="5">L</tspan></text>
<text class="hd" x="1802" y="1639"><tspan font-style="italic">K</tspan><tspan dx="2" dy="5">L</tspan></text>
<text class="hd" x="1877" y="1639"><tspan font-style="italic">J</tspan><tspan dx="2" dy="5">L</tspan></text>
<text class="hd" x="1951" y="1639"><tspan font-style="italic">I</tspan><tspan dx="2" dy="5">L</tspan></text>
<text class="hd" x="2026" y="1639"><tspan font-style="italic">H</tspan><tspan dx="2" dy="5">L</tspan></text>
<text class="hd" x="2101" y="1639"><tspan font-style="italic">G</tspan><tspan dx="2" dy="5">L</tspan></text>
<text class="hd" x="2175" y="1639"><tspan font-style="italic">F</tspan><tspan dx="2" dy="5">L</tspan></text>
<text class="hd" x="2250" y="1639"><tspan font-style="italic">E</tspan><tspan dx="2" dy="5">L</tspan></text>
<text class="hd" x="2324" y="1639"><tspan font-style="italic">D</tspan><tspan dx="2" dy="5">L</tspan></text>
<text class="hd" x="2399" y="1639"><tspan font-style="italic">C</tspan><tspan dx="2" dy="5">L</tspan></text>
<text class="hd" x="2474" y="1639"><tspan font-style="italic">B</tspan><tspan dx="2" dy="5">L</tspan></text>
<text class="hd" x="2548" y="1639"><tspan font-style="italic">A</tspan><tspan dx="2" dy="5">L</tspan></text>
</g>
<text class="cj" x="1965" y="1694" font-size="42" text-anchor="middle">测量值(固有频率)</text>
<rect x="1653" y="1702" width="590" height="21" fill="url(#cb)"/>
<text class="cj" x="1639" y="1769" font-size="39" text-anchor="middle">最低</text>
<text class="cj" x="2249" y="1769" font-size="39" text-anchor="middle">最高</text>
<g>
<ellipse class="e R7" cx="1642" cy="1917" rx="37.5" ry="15"/><text class="v" x="1642" y="1924">35.5</text>
<ellipse class="e R7" cx="1718" cy="1917" rx="37.5" ry="15"/><text class="v" x="1718" y="1924">41.3</text>
<ellipse class="e R6" cx="1794" cy="1917" rx="37.5" ry="15"/><text class="v" x="1794" y="1924">82.8</text>
<ellipse class="e R7" cx="1869" cy="1917" rx="37.5" ry="15"/><text class="v" x="1869" y="1924">52.8</text>
<ellipse class="e R6" cx="1945" cy="1917" rx="37.5" ry="15"/><text class="v" x="1945" y="1924">82.2</text>
<ellipse class="e R4" cx="2021" cy="1917" rx="37.5" ry="15"/><text class="v" x="2021" y="1924">146</text>
<ellipse class="e R3" cx="2097" cy="1917" rx="37.5" ry="15"/><text class="v" x="2097" y="1924">157</text>
<ellipse class="e W" cx="2173" cy="1917" rx="37.5" ry="15"/><text class="v" x="2173" y="1924">266</text>
<ellipse class="e R2" cx="2248" cy="1917" rx="37.5" ry="15"/><text class="v" x="2248" y="1924">207</text>
<ellipse class="e B1" cx="2324" cy="1917" rx="37.5" ry="15"/><text class="v" x="2324" y="1924">302</text>
<ellipse class="e B2" cx="2400" cy="1917" rx="37.5" ry="15"/><text class="v" x="2400" y="1924">344</text>
<ellipse class="e B6" cx="2476" cy="1917" rx="37.5" ry="15"/><text class="v" x="2476" y="1924">530</text>
<ellipse class="e W" cx="2552" cy="1917" rx="37.5" ry="15"/>

<ellipse class="e R7" cx="1794" cy="1885" rx="37.5" ry="15"/><text class="v" x="1794" y="1892">61.9</text>
<ellipse class="e R7" cx="1869" cy="1885" rx="37.5" ry="15"/><text class="v" x="1869" y="1892">42.3</text>
<ellipse class="e R7" cx="1945" cy="1885" rx="37.5" ry="15"/><text class="v" x="1945" y="1892">60.9</text>
<ellipse class="e R7" cx="2021" cy="1885" rx="37.5" ry="15"/><text class="v" x="2021" y="1892">61.9</text>
<ellipse class="e R6" cx="2097" cy="1885" rx="37.5" ry="15"/><text class="v" x="2097" y="1892">91.6</text>
<ellipse class="e R4" cx="2173" cy="1885" rx="37.5" ry="15"/><text class="v" x="2173" y="1892">146</text>
<ellipse class="e R3" cx="2248" cy="1885" rx="37.5" ry="15"/><text class="v" x="2248" y="1892">169</text>
<ellipse class="e W" cx="2324" cy="1885" rx="37.5" ry="15"/><text class="v" x="2324" y="1892">267</text>
<ellipse class="e B1" cx="2400" cy="1885" rx="37.5" ry="15"/><text class="v" x="2400" y="1892">337</text>
<ellipse class="e W" cx="2476" cy="1885" rx="37.5" ry="15"/>
<ellipse class="e W" cx="2552" cy="1885" rx="37.5" ry="15"/>

<ellipse class="e R7" cx="2021" cy="1852" rx="37.5" ry="15"/><text class="v" x="2021" y="1859">62.1</text>
<ellipse class="e R6" cx="2097" cy="1852" rx="37.5" ry="15"/><text class="v" x="2097" y="1859">98.7</text>
<ellipse class="e R4" cx="2173" cy="1852" rx="37.5" ry="15"/><text class="v" x="2173" y="1859">146</text>
<ellipse class="e R1" cx="2248" cy="1852" rx="37.5" ry="15"/><text class="v" x="2248" y="1859">226</text>
<ellipse class="e B1" cx="2324" cy="1852" rx="37.5" ry="15"/><text class="v" x="2324" y="1859">328</text>
<ellipse class="e B3" cx="2400" cy="1852" rx="37.5" ry="15"/><text class="v" x="2400" y="1859">401</text>
<ellipse class="e B6" cx="2476" cy="1852" rx="37.5" ry="15"/><text class="v" x="2476" y="1859">573</text>
<ellipse class="e W" cx="2552" cy="1852" rx="37.5" ry="15"/>

<ellipse class="e R4" cx="2097" cy="1820" rx="37.5" ry="15"/><text class="v" x="2097" y="1827">147</text>
<ellipse class="e R2" cx="2173" cy="1820" rx="37.5" ry="15"/><text class="v" x="2173" y="1827">213</text>
<ellipse class="e B1" cx="2248" cy="1820" rx="37.5" ry="15"/><text class="v" x="2248" y="1827">317</text>
<ellipse class="e B2" cx="2324" cy="1820" rx="37.5" ry="15"/><text class="v" x="2324" y="1827">376</text>
<ellipse class="e B6" cx="2400" cy="1820" rx="37.5" ry="15"/><text class="v" x="2400" y="1827">563</text>
<ellipse class="e W" cx="2476" cy="1820" rx="37.5" ry="15"/>
<ellipse class="e W" cx="2552" cy="1820" rx="37.5" ry="15"/>

<ellipse class="e W" cx="2400" cy="1787" rx="37.5" ry="15"/><text class="v" x="2400" y="1794">263</text>
<ellipse class="e B2" cx="2476" cy="1787" rx="37.5" ry="15"/><text class="v" x="2476" y="1794">365</text>
<ellipse class="e B6" cx="2552" cy="1787" rx="37.5" ry="15"/><text class="v" x="2552" y="1794">580</text>

<ellipse class="e B4" cx="2476" cy="1755" rx="37.5" ry="15"/><text class="v" x="2476" y="1762">470</text>
<ellipse class="e W" cx="2552" cy="1755" rx="37.5" ry="15"/>
</g>
<polyline class="ax" points="2594,1726 2594,1939 1608,1939"/>
<polygon points="2587,1728 2594,1712 2601,1728" fill="#111"/>
<polygon points="1610,1932 1594,1939 1610,1946" fill="#111"/>
<g class="rn">
<text x="2603" y="1930">1</text><text x="2603" y="1898">2</text><text x="2603" y="1865">3</text><text x="2603" y="1833">4</text><text x="2603" y="1800">5</text><text x="2603" y="1768">6</text>
</g>
<text class="cj" x="2120" y="1988" font-size="41" text-anchor="middle">从鼻部到尾部</text>
<text class="cj" x="2648" y="1815" font-size="52">从腹侧</text>
<text class="cj" x="2648" y="1882" font-size="52">到背侧</text>
</svg>
</body></html>
